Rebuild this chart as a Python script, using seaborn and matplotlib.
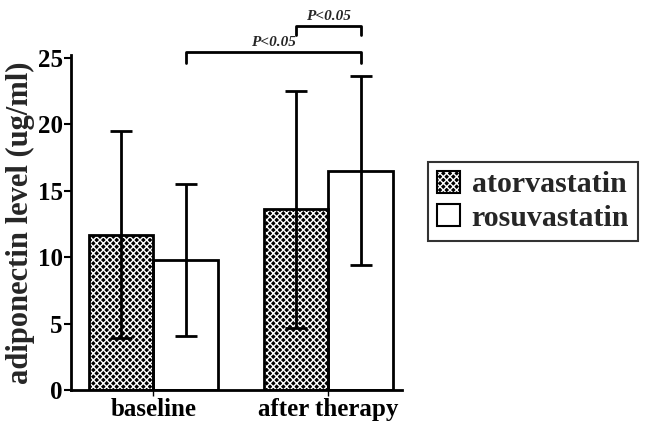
import matplotlib
matplotlib.use("Agg")
import matplotlib.pyplot as plt
import seaborn as sns
import pandas as pd
from matplotlib.patches import Patch, Rectangle

categories = ["baseline", "after therapy"]
drugs = ["atorvastatin", "rosuvastatin"]
atorva_mean = [11.7, 13.6]
atorva_sd = [7.8, 8.9]
rosuva_mean = [9.8, 16.5]
rosuva_sd = [5.7, 7.1]
y_ticks = [0, 5, 10, 15, 20, 25]

sns.set_theme(style="ticks")
plt.rcParams["font.family"] = ["Liberation Serif", "DejaVu Serif"]
plt.rcParams["font.weight"] = "bold"
plt.rcParams["hatch.linewidth"] = 1.0

HATCH = "xxxxx"

df = pd.DataFrame({
    "time": categories * 2,
    "drug": [drugs[0]] * 2 + [drugs[1]] * 2,
    "value": atorva_mean + rosuva_mean,
    "sd": atorva_sd + rosuva_sd,
})

fig = plt.figure(figsize=(6.46, 4.24), dpi=100)
ax = fig.add_axes([0.110, 0.080, 0.512, 0.790])

sns.barplot(data=df, x="time", y="value", hue="drug", order=categories,
            hue_order=drugs, palette=["white", "white"], width=0.74,
            errorbar=None, edgecolor="black", linewidth=2, ax=ax, legend=False)

bars = [p for p in ax.patches if p.get_height() > 0]
centers = {}
idx = 0
for d in drugs:
    for c in categories:
        p = bars[idx]
        if d == drugs[0]:
            p.set_facecolor("black")
            p.set_edgecolor("white")
            p.set_hatch(HATCH)
            p.set_linewidth(0)
            ax.add_patch(Rectangle((p.get_x(), p.get_y()), p.get_width(), p.get_height(),
                                   fill=False, edgecolor="black", linewidth=2, zorder=p.get_zorder() + 0.1))
        centers[(d, c)] = p.get_x() + p.get_width() / 2
        idx += 1

for _, row in df.iterrows():
    ax.errorbar(centers[(row.drug, row.time)], row.value, yerr=row.sd,
                fmt="none", ecolor="black", elinewidth=2, capsize=8,
                capthick=2, zorder=5)

ax.set_ylim(0, 25.2)
ax.set_xlim(-0.47, 1.42)
ax.set_yticks(y_ticks)
ax.set_yticklabels([str(t) for t in y_ticks], fontsize=18, fontweight="bold")
ax.set_xticks([0, 1])
ax.set_xticklabels(categories, fontsize=18, fontweight="bold")
ax.set_xlabel("")
ax.set_ylabel("adiponectin level (ug/ml)", fontsize=22, fontweight="bold", labelpad=2)
sns.despine(ax=ax)
for s in ["left", "bottom"]:
    ax.spines[s].set_linewidth(2)
    ax.spines[s].set_color("black")
ax.tick_params(axis="y", length=5, width=1.5, pad=1, colors="black")
ax.tick_params(axis="x", length=4, width=1, pad=2, colors="black")

def bracket(x1, x2, y, h, label):
    ax.plot([x1, x1, x2, x2], [y - h, y, y, y - h], color="black", lw=2,
            clip_on=False, zorder=6)
    ax.text((x1 + x2) / 2, y + 0.2, label, ha="center", va="bottom",
            fontsize=11, fontweight="bold", fontstyle="italic", clip_on=False)

bracket(centers[(drugs[1], categories[0])], centers[(drugs[1], categories[1])],
        25.45, 0.85, "P<0.05")
bracket(centers[(drugs[0], categories[1])], centers[(drugs[1], categories[1])],
        27.4, 0.7, "P<0.05")

h_fill = Patch(facecolor="black", edgecolor="white", hatch=HATCH, linewidth=0)
h_edge = Patch(fill=False, edgecolor="black", linewidth=1.5)
handles = [(h_fill, h_edge), Patch(facecolor="white", edgecolor="black", linewidth=1.5)]
leg = fig.legend(handles, drugs, loc="upper left", bbox_to_anchor=(0.663, 0.618),
                 prop={"family": "Liberation Serif", "weight": "bold", "size": 21.5},
                 frameon=True, fancybox=False, edgecolor="black", handlelength=0.75,
                 handleheight=0.75, handletextpad=0.4, borderpad=0.3,
                 labelspacing=0.2, borderaxespad=0)
leg.get_frame().set_linewidth(1.5)

fig.savefig("out.png", dpi=100)
